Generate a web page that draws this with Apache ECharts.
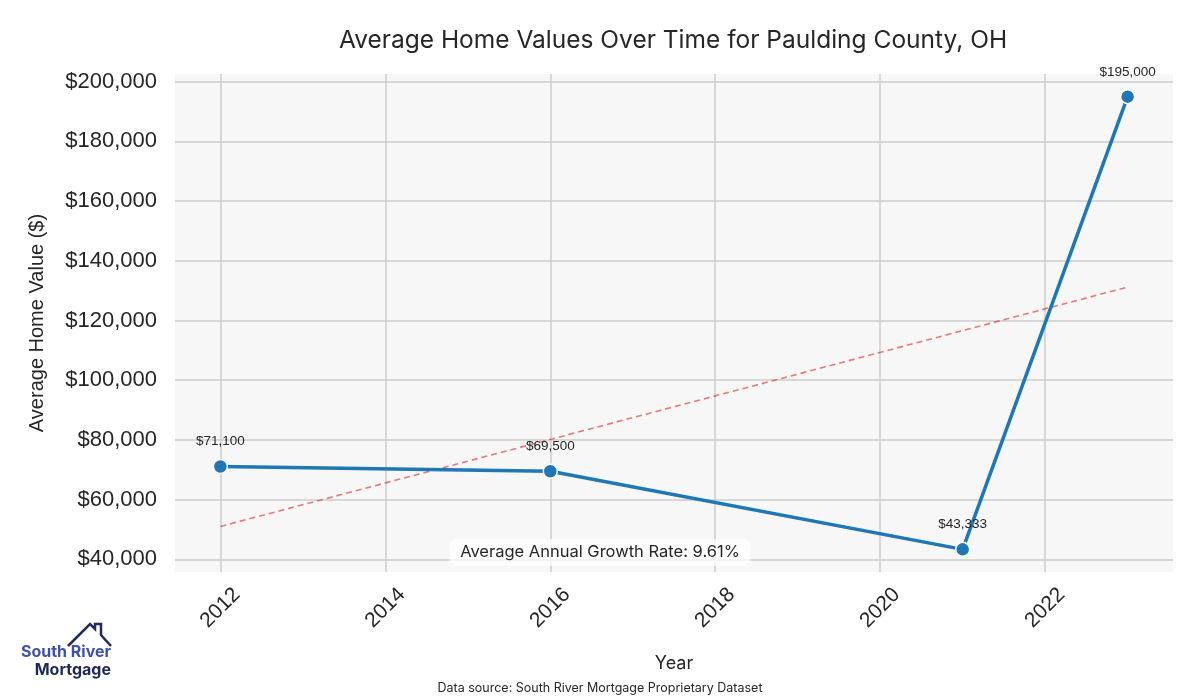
<!DOCTYPE html>
<html>
<head>
<meta charset="utf-8">
<script src="https://cdn.jsdelivr.net/npm/echarts@6/dist/echarts.min.js"></script>
<style>
html,body{margin:0;padding:0;background:#fff;}
#chart{width:1200px;height:700px;}
</style>
</head>
<body>
<div id="chart"></div>
<script>
const years = [2012, 2016, 2021, 2023];
const values = [71100, 69500, 43333, 195000];
const trendYears = [2012, 2023];
const trendValues = [51000, 131200];
const xTicks = [2012, 2014, 2016, 2018, 2020, 2022];
const yTicks = [40000, 60000, 80000, 100000, 120000, 140000, 160000, 180000, 200000];
const growthText = 'Average Annual Growth Rate: 9.61%';

const fmtMoney = v => '$' + Math.round(v).toLocaleString('en-US');

const chart = echarts.init(document.getElementById('chart'), null, {renderer: 'canvas'});
const gridColor = '#cccccc';

chart.setOption({
  animation: false,
  backgroundColor: '#ffffff',
  title: {
    text: 'Average Home Values Over Time for Paulding County, OH',
    left: 668, top: 23, textAlign: 'center',
    textStyle: {fontFamily: 'Inter', fontWeight: 'normal', fontSize: 24.5, color: '#262626'}
  },
  grid: {
    left: 175, right: 27, top: 74, bottom: 128,
    show: true, backgroundColor: '#f7f7f7', borderWidth: 0
  },
  xAxis: {
    type: 'value', min: 2011.45, max: 2023.55,
    name: 'Year', nameLocation: 'middle', nameGap: 83,
    nameTextStyle: {fontFamily: 'Inter', fontSize: 18, color: '#262626'},
    axisLine: {show: false},
    axisTick: {show: false, customValues: xTicks},
    axisLabel: {
      customValues: xTicks, rotate: 45, align: 'center', verticalAlign: 'middle',
      margin: 36, fontFamily: 'Liberation Sans', fontSize: 21, color: '#262626',
      formatter: v => String(v)
    },
    splitLine: {show: true, lineStyle: {color: gridColor, width: 1.5}}
  },
  yAxis: {
    type: 'value', min: 35750, max: 202583,
    name: 'Average Home Value ($)', nameLocation: 'middle', nameGap: 128, nameRotate: 90,
    nameTextStyle: {fontFamily: 'Liberation Sans', fontSize: 20, color: '#262626'},
    axisLine: {show: false},
    axisTick: {show: false, customValues: yTicks},
    axisLabel: {
      customValues: yTicks, margin: 18, fontFamily: 'Liberation Sans', fontSize: 22, color: '#262626',
      formatter: v => fmtMoney(v)
    },
    splitLine: {show: true, lineStyle: {color: gridColor, width: 1.5}}
  },
  series: [
    {
      type: 'line',
      data: trendYears.map((y, i) => [y, trendValues[i]]),
      symbol: 'none',
      lineStyle: {color: 'rgba(214,39,40,0.6)', width: 1.6, type: [6, 4]},
      z: 2, silent: true
    },
    {
      type: 'line',
      data: years.map((y, i) => [y, values[i]]),
      symbol: 'circle', symbolSize: 14,
      lineStyle: {color: '#1f77b4', width: 3.5},
      itemStyle: {color: '#1f77b4', borderColor: '#ffffff', borderWidth: 1.5},
      label: {
        show: true, position: 'top', distance: 10,
        fontFamily: 'Liberation Sans', fontSize: 13.5, color: '#262626',
        formatter: p => fmtMoney(p.value[1])
      },
      z: 3
    }
  ],
  graphic: [
    {
      type: 'text', left: 'center', top: 539, z: 10,
      style: {
        text: growthText,
        font: '16.5px Inter', fill: '#262626',
        backgroundColor: 'rgba(255,255,255,0.7)', padding: [5, 10], borderRadius: 6
      }
    },
    {
      type: 'text', left: 'center', top: 682,
      style: {text: 'Data source: South River Mortgage Proprietary Dataset', font: '12.5px Inter', fill: '#262626'}
    },
    {
      type: 'polyline',
      shape: {points: [[68, 646], [90, 624], [95, 629], [95, 624], [101, 624], [101, 635], [111, 646]]},
      style: {stroke: '#232b5e', lineWidth: 2.5, fill: null}
    },
    {
      type: 'text', x: 111, y: 652,
      style: {text: 'South River', font: 'bold 16px Inter', fill: '#3f51a8', align: 'right', verticalAlign: 'middle'}
    },
    {
      type: 'text', x: 111, y: 670,
      style: {text: 'Mortgage', font: 'bold 16px Inter', fill: '#1f2759', align: 'right', verticalAlign: 'middle'}
    }
  ]
});
</script>
</body>
</html>
